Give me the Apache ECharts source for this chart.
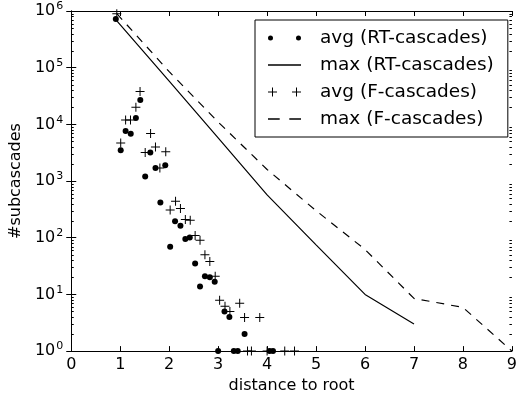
<!DOCTYPE html>
<html>
<head>
<meta charset="utf-8">
<script src="https://cdn.jsdelivr.net/npm/echarts@6/dist/echarts.min.js"></script>
<style>
  html, body { margin: 0; padding: 0; background: #fff; }
  #chart { width: 520px; height: 399px; }
</style>
</head>
<body>
<div id="chart"></div>
<script>
// avg distance to root vs number of subcascades
const avgRtX = [0.91, 1.01, 1.11, 1.215, 1.32, 1.41, 1.51, 1.615, 1.72, 1.82, 1.92, 2.02, 2.12, 2.23, 2.33, 2.42, 2.53, 2.63, 2.73, 2.83, 2.93, 3.0, 3.13, 3.23, 3.32, 3.4, 3.54, 4.05, 4.12];
const avgRtY = [7.2e5, 3500, 7600, 6800, 13000, 27000, 1200, 3200, 1700, 417, 1900, 69, 196, 163, 95, 101, 35, 13.8, 21, 20, 16.7, 1, 5.0, 4.0, 1, 1, 2.0, 1, 1];

const avgFX = [0.93, 1.01, 1.11, 1.21, 1.32, 1.405, 1.51, 1.62, 1.72, 1.81, 1.93, 2.02, 2.13, 2.23, 2.33, 2.43, 2.53, 2.63, 2.73, 2.83, 2.94, 3.03, 3.14, 3.24, 3.44, 3.54, 3.6, 3.68, 3.85, 4.0, 4.36, 4.56];
const avgFY = [8.9e5, 4700, 12000, 12000, 20000, 38000, 3200, 6900, 4000, 1700, 3300, 307, 440, 327, 209, 203, 110, 90, 50, 38, 21, 7.9, 6.2, 5.0, 7.0, 3.9, 1, 1, 3.9, 1, 1, 1];

const maxRtX = [0.9, 2, 3, 4, 5, 6, 7];
const maxRtY = [7.2e5, 58000, 5800, 570, 75, 10, 3];

const maxFX = [0.93, 2, 3, 4, 5, 6, 7, 8, 9];
const maxFY = [9e5, 85000, 11000, 1600, 300, 62, 8.5, 5.9, 1];

const minorTicks = [];
for (let k = 0; k < 6; k++) {
  for (let m = 2; m <= 9; m++) minorTicks.push(m * Math.pow(10, k));
}

const font = 'DejaVu Sans';
const zip = (xs, ys) => xs.map((x, i) => [x, ys[i]]);

const chart = echarts.init(document.getElementById('chart'));

const xBase = {
  type: 'value',
  min: 0,
  max: 9,
  interval: 1,
  splitLine: { show: false },
  axisLine: { lineStyle: { color: '#000', width: 1 } },
  axisTick: { inside: true, length: 5, lineStyle: { color: '#000' } }
};
const yBase = {
  type: 'log',
  logBase: 10,
  min: 1,
  max: 1e6,
  splitLine: { show: false },
  axisLine: { lineStyle: { color: '#000', width: 1 } },
  axisTick: { inside: true, length: 5, lineStyle: { color: '#000' } }
};

chart.setOption({
  animation: false,
  backgroundColor: '#fff',
  textStyle: { fontFamily: font },
  grid: { left: 71, right: 7, top: 11, bottom: 46 },
  legend: {
    orient: 'vertical',
    left: 255,
    top: 20,
    width: 252,
    padding: [8, 14, 8, 13],
    itemGap: 7,
    itemWidth: 33,
    itemHeight: 9,
    borderColor: '#000',
    borderWidth: 1,
    borderRadius: 0,
    backgroundColor: '#fff',
    textStyle: { fontFamily: font, fontSize: 18.5, color: '#000', lineHeight: 20, padding: [0, 0, 0, 14] },
    data: [
      { name: 'avg (RT-cascades)', icon: 'path://M0,2.5a2.5,2.5 0 1,0 5,0a2.5,2.5 0 1,0 -5,0M28,2.5a2.5,2.5 0 1,0 5,0a2.5,2.5 0 1,0 -5,0' },
      { name: 'max (RT-cascades)', icon: 'path://M0,0h33v1.3h-33z' },
      { name: 'avg (F-cascades)', icon: 'path://M0,4h9v1h-9zM4,0h1v9h-1zM24,4h9v1h-9zM28,0h1v9h-1z' },
      { name: 'max (F-cascades)', icon: 'path://M1,0h11v1.3h-11zM21,0h11v1.3h-11z' }
    ]
  },
  xAxis: [
    Object.assign({}, xBase, {
      name: 'distance to root',
      nameLocation: 'middle',
      nameGap: 23,
      nameTextStyle: { fontFamily: font, fontSize: 16, color: '#000' },
      axisLabel: { fontFamily: font, fontSize: 16, color: '#000', margin: 6 }
    }),
    Object.assign({}, xBase, { position: 'top', axisLabel: { show: false } })
  ],
  yAxis: [
    Object.assign({}, yBase, {
      name: '#subcascades',
      nameLocation: 'middle',
      nameGap: 31,
      nameTextStyle: { fontFamily: font, fontSize: 16, color: '#000' },
      axisLabel: {
        margin: 8,
        formatter: v => '{b|10}{s|' + Math.round(Math.log10(v)) + '}',
        rich: {
          b: { fontFamily: font, fontSize: 16, color: '#000' },
          s: { fontFamily: font, fontSize: 11, color: '#000', padding: [0, 0, 9, 1] }
        }
      }
    }),
    Object.assign({}, yBase, { position: 'right', axisLabel: { show: false } })
  ],
  series: [
    {
      name: 'avg (RT-cascades)',
      type: 'scatter',
      symbol: 'circle',
      symbolSize: 6,
      clip: true,
      itemStyle: { color: '#000', opacity: 1 },
      data: zip(avgRtX, avgRtY)
    },
    {
      name: 'max (RT-cascades)',
      type: 'line',
      symbol: 'none',
      lineStyle: { color: '#000', width: 1.2 },
      itemStyle: { color: '#000' },
      data: zip(maxRtX, maxRtY)
    },
    {
      name: 'avg (F-cascades)',
      type: 'scatter',
      symbol: 'path://M0,4h9v1h-9zM4,0h1v9h-1z',
      symbolSize: 9,
      clip: true,
      itemStyle: { color: '#000', opacity: 1 },
      data: zip(avgFX, avgFY)
    },
    {
      name: 'max (F-cascades)',
      type: 'line',
      symbol: 'none',
      lineStyle: { color: '#000', width: 1.2, type: [8, 7] },
      itemStyle: { color: '#000' },
      data: zip(maxFX, maxFY)
    },
    {
      // log minor ticks on left and right spines
      type: 'custom',
      silent: true,
      clip: false,
      data: minorTicks.map(v => [0, v]),
      renderItem: (params, api) => {
        const p0 = api.coord([0, api.value(1)]);
        const p1 = api.coord([9, api.value(1)]);
        const y = Math.round(p0[1]) + 0.5;
        return {
          type: 'group',
          children: [
            { type: 'line', shape: { x1: p0[0], y1: y, x2: p0[0] + 2.5, y2: y }, style: { stroke: '#000', lineWidth: 1 } },
            { type: 'line', shape: { x1: p1[0] - 2.5, y1: y, x2: p1[0], y2: y }, style: { stroke: '#000', lineWidth: 1 } }
          ]
        };
      }
    }
  ]
});
</script>
</body>
</html>
